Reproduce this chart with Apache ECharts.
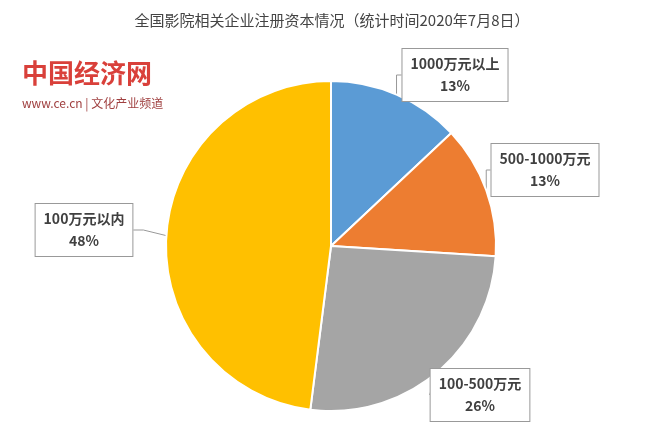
<!DOCTYPE html><html><head><meta charset="utf-8"><script src="https://cdn.jsdelivr.net/npm/echarts@6/dist/echarts.min.js"></script></head><body style="margin:0;background:#fff"><div id="c" style="width:664px;height:431px"></div><script>
const categories=['1000万元以上','500-1000万元','100-500万元','100万元以内'];
const values=[13,13,26,48];
const colors=['#5B9BD5','#ED7D31','#A5A5A5','#FFC000'];
const labelPos=[[455,75],[545,170],[480,395],[84,230]];
const chart=echarts.init(document.getElementById('c'));
chart.setOption({
 title:{text:'全国影院相关企业注册资本情况（统计时间2020年7月8日）',left:'center',top:8,textStyle:{fontSize:15,fontWeight:'normal',color:'#444',fontFamily:'Noto Sans CJK SC'}},
 graphic:[
  {type:'text',left:22,top:60,style:{text:'中国经济网',fill:'#d9403a',font:'bold 26px "Noto Sans CJK SC"'}},
  {type:'text',left:22,top:97,style:{text:'www.ce.cn | 文化产业频道',fill:'#a04040',font:'12px "Noto Sans CJK SC"'}}
 ],
 series:[{type:'pie',center:[331,246],radius:165,startAngle:90,clockwise:true,
  data:categories.map((n,i)=>({name:n,value:values[i],itemStyle:{color:colors[i]}})),
  itemStyle:{borderColor:'#fff',borderWidth:2},
  label:{formatter:'{b}\n{d}%',fontSize:14,fontWeight:'bold',color:'#404040',lineHeight:22,backgroundColor:'#fff',borderColor:'#999',borderWidth:1,padding:[4,8],fontFamily:'Noto Sans CJK SC',align:'left'},
  labelLine:{show:true,lineStyle:{color:'#999'},length:10,length2:10},
  labelLayout:p=>{const q=labelPos[p.dataIndex];return {x:q[0],y:q[1],align:'center',verticalAlign:'middle'};}
 }]
});
</script></body></html>
